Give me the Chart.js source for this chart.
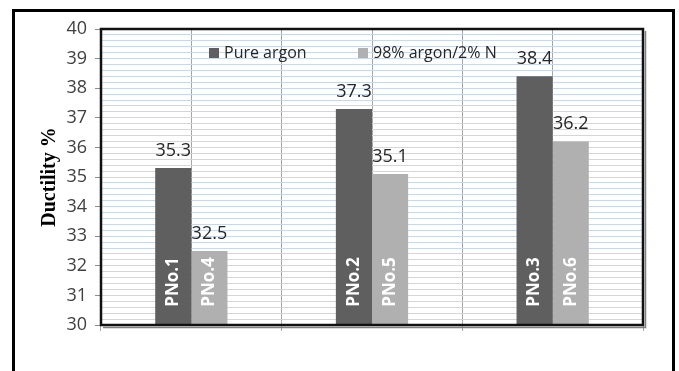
<!DOCTYPE html>
<html>
<head>
<meta charset="utf-8">
<script src="https://cdn.jsdelivr.net/npm/chart.js@4/dist/chart.umd.min.js"></script>
<style>
  html, body { margin: 0; padding: 0; background: #fff; overflow: hidden; }
  #wrap { position: relative; width: 679px; height: 371px; overflow: hidden; }
  #frame { position: absolute; left: 12px; top: 9px; width: 657px; height: 420px;
           border: 3px solid #000; pointer-events: none; }
</style>
</head>
<body>
<div id="wrap">
  <canvas id="chartDuctility" width="679" height="371"></canvas>
  <div id="frame"></div>
</div>
<script>
// datos
const categories = ['Grupo 1', 'Grupo 2', 'Grupo 3'];
const seriesNames = ['Pure argon', '98% argon/2% N'];
const pureArgon = [35.3, 37.3, 38.4];
const argonNitrogen = [32.5, 35.1, 36.2];
const pureArgonTags = ['PNo.1', 'PNo.2', 'PNo.3'];
const argonNitrogenTags = ['PNo.4', 'PNo.5', 'PNo.6'];
const yMin = 30;
const yMax = 40;
const yStep = 0.2;

const colors = ['#5f5f5f', '#b0b0b0'];
const tags = [pureArgonTags, argonNitrogenTags];

function isWhole(v) {
  return Math.abs(v - Math.round(v)) < 1e-6;
}

// borde del area de trazado (con sombra abajo/derecha)
const plotFrame = {
  id: 'plotFrame',
  afterDatasetsDraw(chart) {
    const { ctx, chartArea: a } = chart;
    ctx.save();
    ctx.strokeStyle = '#808080';
    ctx.lineWidth = 1.5;
    ctx.beginPath();
    ctx.moveTo(a.right + 2.5, a.top + 2);
    ctx.lineTo(a.right + 2.5, a.bottom + 2.5);
    ctx.lineTo(a.left + 2, a.bottom + 2.5);
    ctx.stroke();
    ctx.strokeStyle = '#111';
    ctx.lineWidth = 2.5;
    ctx.strokeRect(a.left, a.top, a.right - a.left, a.bottom - a.top);
    ctx.restore();
  }
};

// valores encima de las barras y etiquetas giradas dentro
const barText = {
  id: 'barText',
  afterDatasetsDraw(chart) {
    const ctx = chart.ctx;
    const base = chart.scales.y.getPixelForValue(yMin);
    chart.data.datasets.forEach((ds, i) => {
      const meta = chart.getDatasetMeta(i);
      meta.data.forEach((bar, j) => {
        ctx.save();
        ctx.font = '18px "Open Sans"';
        ctx.fillStyle = '#262626';
        ctx.textAlign = 'center';
        ctx.textBaseline = 'alphabetic';
        ctx.fillText(ds.data[j].toFixed(1), bar.x, bar.y - 12);

        ctx.translate(bar.x, base - 43);
        ctx.rotate(-Math.PI / 2);
        ctx.font = 'bold 17px "Open Sans"';
        ctx.fillStyle = '#ffffff';
        ctx.textBaseline = 'middle';
        ctx.fillText(tags[i][j], 0, 0);
        ctx.restore();
      });
    });
  }
};

// leyenda dentro del area de trazado
const innerLegend = {
  id: 'innerLegend',
  afterDraw(chart) {
    const { ctx, chartArea: a } = chart;
    const starts = [a.left + 108, a.left + 257];
    const cy = a.top + 24;
    ctx.save();
    ctx.font = '16px "Open Sans"';
    ctx.textBaseline = 'middle';
    ctx.textAlign = 'left';
    chart.data.datasets.forEach((ds, i) => {
      ctx.fillStyle = ds.backgroundColor;
      ctx.fillRect(starts[i], cy - 5, 10, 10);
      ctx.fillStyle = '#262626';
      ctx.fillText(ds.label, starts[i] + 15, cy);
    });
    ctx.restore();
  }
};

Chart.defaults.font.family = '"Open Sans", sans-serif';

new Chart(document.getElementById('chartDuctility'), {
  type: 'bar',
  data: {
    labels: categories,
    datasets: [
      { label: seriesNames[0], data: pureArgon, backgroundColor: colors[0] },
      { label: seriesNames[1], data: argonNitrogen, backgroundColor: colors[1] }
    ]
  },
  options: {
    responsive: false,
    animation: false,
    devicePixelRatio: 1,
    layout: { padding: { top: 29, right: 36, left: 0, bottom: 0 } },
    datasets: {
      bar: { categoryPercentage: 0.4, barPercentage: 1.0, base: yMin }
    },
    plugins: {
      legend: { display: false },
      tooltip: { enabled: false }
    },
    scales: {
      x: {
        offset: true,
        ticks: { display: false },
        grid: { offset: true, color: '#a6a6a6', lineWidth: 1, tickLength: 6, tickColor: '#a6a6a6' },
        border: { display: false },
        afterFit: (s) => { s.height = 46; }
      },
      x2: {
        position: 'bottom',
        offset: true,
        ticks: { display: false },
        grid: { offset: false, color: '#a6a6a6', lineWidth: 1, drawTicks: false },
        border: { display: false },
        afterFit: (s) => { s.height = 0; }
      },
      y: {
        min: yMin,
        max: yMax,
        ticks: {
          stepSize: yStep,
          autoSkip: false,
          padding: 8,
          color: '#404040',
          font: { size: 18 },
          callback: (v) => isWhole(v) ? String(Math.round(v)) : ''
        },
        grid: {
          color: '#cad8ef',
          lineWidth: 1,
          tickLength: 6,
          tickColor: (c) => isWhole(c.tick.value) ? '#8c8c8c' : 'transparent'
        },
        border: { display: false },
        title: {
          display: true,
          text: 'Ductility %',
          color: '#000',
          font: { family: '"Liberation Serif", serif', weight: 'bold', size: 20 },
          padding: { top: 38, bottom: 0 }
        },
        afterFit: (s) => { s.width = 101; }
      }
    }
  },
  plugins: [plotFrame, barText, innerLegend]
});
</script>
</body>
</html>
